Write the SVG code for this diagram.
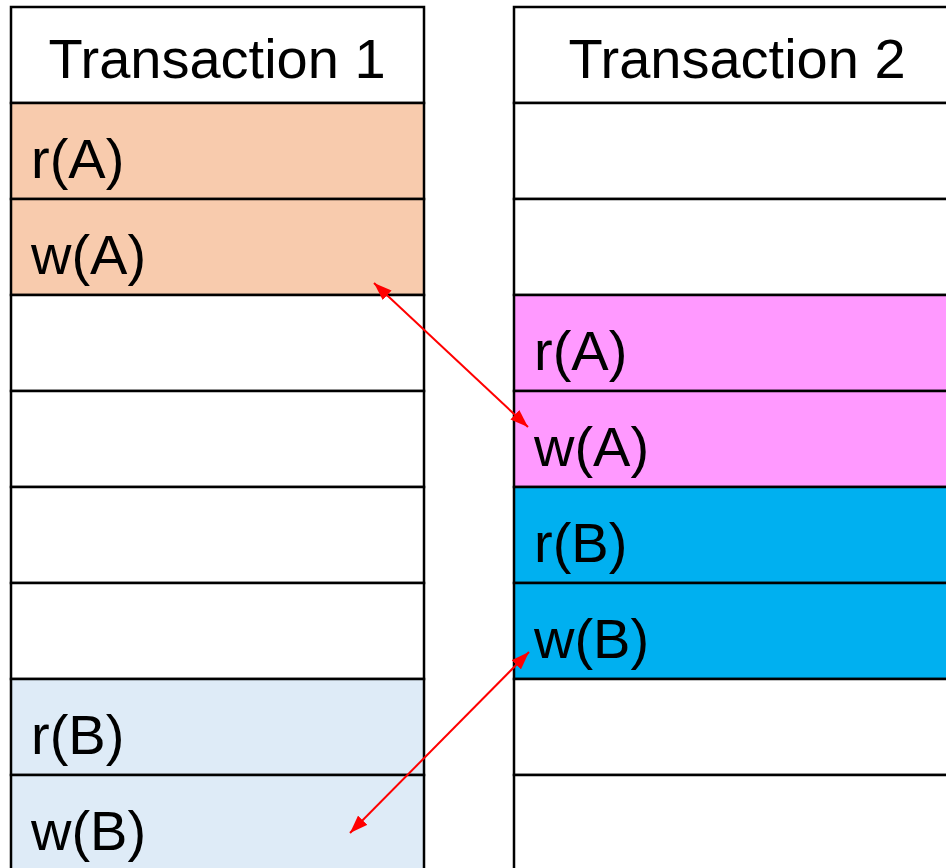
<svg xmlns="http://www.w3.org/2000/svg" width="946" height="868" viewBox="0 0 946 868">
  <style>
    .cell { stroke: #000; stroke-width: 2.5; }
    .blank { fill: #fff; }
    .peach { fill: #F8CBAD; }
    .pink { fill: #FF99FF; }
    .cyan { fill: #00B0F0; }
    .pale { fill: #DEEBF7; }
    text { font-family: "Liberation Sans", Arial, sans-serif; font-size: 56px; fill: #000; }
    .hdr { text-anchor: middle; }
    .link { stroke: #FF0000; stroke-width: 2; fill: none; marker-start: url(#head); marker-end: url(#head); }
  </style>
  <defs>
    <marker id="head" viewBox="0 0 18 13" refX="18" refY="6.5" markerWidth="9" markerHeight="6.5" markerUnits="strokeWidth" orient="auto-start-reverse">
      <path d="M0,0 L18,6.5 L0,13 Z" fill="#FF0000"/>
    </marker>
  </defs>
  <rect width="946" height="868" fill="#fff"/>

  <g id="transaction1">
    <rect class="cell blank" x="11" y="7" width="413" height="96"/>
    <text class="hdr" x="217" y="78">Transaction 1</text>
    <g id="t1-rA"><rect class="cell peach" x="11" y="103" width="413" height="96"/><text x="31" y="178">r(A)</text></g>
    <g id="t1-wA"><rect class="cell peach" x="11" y="199" width="413" height="96"/><text x="31" y="274">w(A)</text></g>
    <rect class="cell blank" x="11" y="295" width="413" height="96"/>
    <rect class="cell blank" x="11" y="391" width="413" height="96"/>
    <rect class="cell blank" x="11" y="487" width="413" height="96"/>
    <rect class="cell blank" x="11" y="583" width="413" height="96"/>
    <g id="t1-rB"><rect class="cell pale" x="11" y="679" width="413" height="96"/><text x="31" y="754">r(B)</text></g>
    <g id="t1-wB"><rect class="cell pale" x="11" y="775" width="413" height="110"/><text x="31" y="850">w(B)</text></g>
  </g>

  <g id="transaction2">
    <rect class="cell blank" x="514" y="7" width="447" height="96"/>
    <text class="hdr" x="737" y="78">Transaction 2</text>
    <rect class="cell blank" x="514" y="103" width="447" height="96"/>
    <rect class="cell blank" x="514" y="199" width="447" height="96"/>
    <g id="t2-rA"><rect class="cell pink" x="514" y="295" width="447" height="96"/><text x="534" y="370">r(A)</text></g>
    <g id="t2-wA"><rect class="cell pink" x="514" y="391" width="447" height="96"/><text x="534" y="466">w(A)</text></g>
    <g id="t2-rB"><rect class="cell cyan" x="514" y="487" width="447" height="96"/><text x="534" y="562">r(B)</text></g>
    <g id="t2-wB"><rect class="cell cyan" x="514" y="583" width="447" height="96"/><text x="534" y="658">w(B)</text></g>
    <rect class="cell blank" x="514" y="679" width="447" height="96"/>
    <rect class="cell blank" x="514" y="775" width="447" height="110"/>
  </g>

  <g id="connectors">
    <line class="link" x1="374" y1="283" x2="528" y2="427"/>
    <line class="link" x1="529" y1="652" x2="350" y2="833"/>
  </g>
</svg>
